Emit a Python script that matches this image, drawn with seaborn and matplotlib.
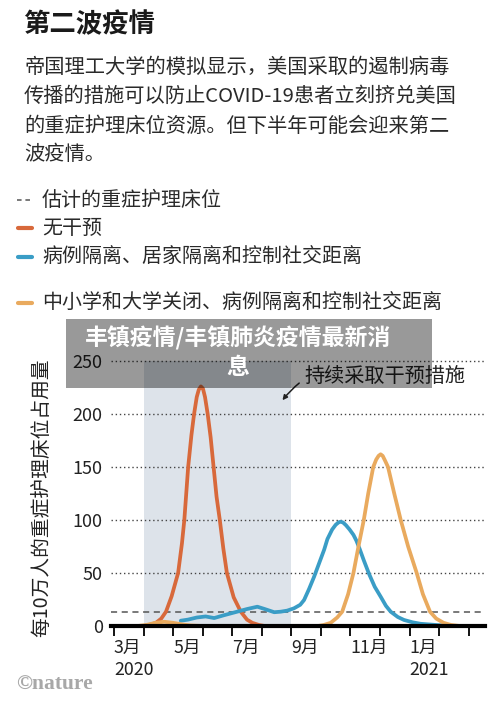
import matplotlib
matplotlib.use("Agg")
import matplotlib.pyplot as plt
import matplotlib.transforms as mtransforms
from matplotlib.lines import Line2D
from matplotlib.patches import Rectangle
import seaborn as sns
import pandas as pd

# ---------------- data (months since 1 March 2020) ----------------
orange_x = [1.0, 1.2, 1.42, 1.6, 1.76, 1.95, 2.17, 2.3, 2.38, 2.51, 2.62, 2.71, 2.8, 2.87, 2.94,
            3.01, 3.08, 3.17, 3.27, 3.37, 3.47, 3.58, 3.7, 3.82, 4.05, 4.29, 4.5, 4.68, 4.9, 5.1]
orange_y = [0, 1, 3, 7, 13.5, 28, 50, 78, 100, 150, 180, 200, 216, 223, 226,
            224, 216, 200, 178, 150, 122, 100, 73, 50, 27, 13.5, 6, 3, 1, 0]

blue_x = [2.26, 2.5, 2.8, 3.1, 3.39, 3.7, 4.1, 4.5, 4.85, 5.1, 5.42, 5.64, 5.86, 6.09, 6.3,
          6.43, 6.6, 6.77, 6.95, 7.11, 7.22, 7.38, 7.5, 7.6, 7.67, 7.75, 7.85, 7.97, 8.1,
          8.2, 8.3, 8.45, 8.63, 8.82, 9.02, 9.2, 9.36, 9.6, 9.81, 10.1, 10.37, 10.93, 11.3]
blue_y = [5, 6, 8, 9, 7.5, 10, 13, 16, 18.2, 16, 13, 13.5, 14.5, 16.7, 20,
          24.5, 35, 46.5, 60, 72, 82, 91, 95.5, 97.8, 98.4, 97.6, 95, 91, 86,
          80.5, 73.5, 62, 49, 37, 27.7, 19, 13.5, 8.5, 5.7, 3.5, 2.1, 0.9, 0.3]

tan_x = [0.8, 1.1, 1.4, 1.7, 2.0, 2.3, 2.6, 3.0, 6.9, 7.1, 7.33, 7.55, 7.72, 7.92, 8.1, 8.27,
         8.45, 8.6, 8.77, 8.87, 8.95, 9.02, 9.09, 9.17, 9.27, 9.48, 9.7, 9.95, 10.24, 10.45,
         10.69, 10.9, 11.15, 11.4, 11.7]
tan_y = [0, 1, 3, 4, 3, 1.5, 0.5, 0, 0, 1, 3, 8, 13.5, 30, 50, 75,
         100, 125, 150, 157, 160.5, 162, 160.5, 156, 150, 125, 100, 75, 50, 30,
         13.5, 7, 3, 1, 0]

icu_capacity = 13.5
intervention_start, intervention_end = 1, 6

x_ticks = list(range(13))
x_labels = ["3月\n2020", "", "5月", "", "7月", "", "9月", "", "11月", "", "1月\n2021", "", ""]
y_ticks = [0, 50, 100, 150, 200, 250]

series_names = ["无干预", "病例隔离、居家隔离和控制社交距离", "中小学和大学关闭、病例隔离和控制社交距离"]
colors = ["#d8693b", "#3a9dc6", "#e9aa5e"]

df = pd.concat([
    pd.DataFrame({"month": orange_x, "value": orange_y, "series": series_names[0]}),
    pd.DataFrame({"month": blue_x, "value": blue_y, "series": series_names[1]}),
    pd.DataFrame({"month": tan_x, "value": tan_y, "series": series_names[2]}),
], ignore_index=True)

# ---------------- style ----------------
sns.set_theme(style="white")
plt.rcParams["font.family"] = ["Noto Sans CJK SC", "DejaVu Sans"]

W, H = 500, 708
fig = plt.figure(figsize=(W / 100, H / 100), dpi=100)
fig.patch.set_facecolor("white")

def fy(p):
    return 1 - p / H

ax = fig.add_axes([111 / W, 82 / H, 374 / W, 270.3 / H])

ax.axvspan(intervention_start, intervention_end, ymin=0, ymax=250 / 255,
           color="#dde3ea", zorder=0.2, lw=0)
ax.axhline(icu_capacity, color="#555555", lw=1.1, ls=(0, (4, 3)), zorder=1.5)

sns.lineplot(data=df, x="month", y="value", hue="series", hue_order=series_names,
             palette=colors, estimator=None, sort=False, lw=2.7, legend=False,
             ax=ax, zorder=3)
for ln in ax.get_lines():
    ln.set_solid_joinstyle("round")
    ln.set_solid_capstyle("round")

ax.set_xlim(-0.1, 12.55)
ax.set_ylim(0, 255)
ax.set_yticks(y_ticks)
ax.set_yticklabels([str(v) for v in y_ticks])
ax.set_xticks(x_ticks)
ax.set_xticklabels(x_labels, ha="left", multialignment="left", linespacing=1.3)
offset = mtransforms.ScaledTranslation(-5 / 100, 0, fig.dpi_scale_trans)
for lab in ax.get_xticklabels():
    lab.set_transform(lab.get_transform() + offset)

ax.yaxis.grid(True, linestyle=(0, (1, 2)), color="#444444", lw=1.0)
ax.set_axisbelow(True)
for s in ["top", "right", "left"]:
    ax.spines[s].set_visible(False)
ax.spines["bottom"].set_linewidth(3)
ax.spines["bottom"].set_color("black")
ax.spines["bottom"].set_zorder(4)
ax.tick_params(axis="y", length=0, pad=6, labelsize=13, labelcolor="#222222")
ax.tick_params(axis="x", length=7, width=1.3, direction="out", color="black",
               pad=2, labelsize=12.8, labelcolor="#222222", bottom=True)
ax.set_xlabel("")
ax.set_ylabel("每10万人的重症护理床位占用量", fontsize=14.2, color="#222222")
ax.yaxis.set_label_coords(-0.158, 0.475)

ax.annotate("持续采取干预措施", xy=(5.7, 213), xytext=(6.45, 235),
            fontsize=14.5, color="#222222", va="center", ha="left",
            arrowprops=dict(arrowstyle="-|>", connectionstyle="arc3,rad=0.4",
                            color="#222222", lw=1.1, shrinkA=2, shrinkB=0,
                            mutation_scale=7))

# ---------------- header text ----------------
fig.text(23 / W, fy(25), "第二波疫情", fontsize=19, fontweight="bold",
         color="#1a1a1a", va="center", ha="left")
body = ["帝国理工大学的模拟显示，美国采取的遏制病毒",
        "传播的措施可以防止COVID-19患者立刻挤兑美国",
        "的重症护理床位资源。但下半年可能会迎来第二",
        "波疫情。"]
for txt, yp in zip(body, [67, 96.5, 126, 155]):
    fig.text(24 / W, fy(yp), txt, fontsize=14.6, color="#2a2a2a", va="center", ha="left")

# ---------------- legend ----------------
fig.add_artist(Line2D([17 / W, 33 / W], [fy(200), fy(200)], color="#555555", lw=1.1,
                      ls=(0, (3, 2.5)), transform=fig.transFigure))
fig.text(42 / W, fy(200), "估计的重症护理床位", fontsize=14.4, color="#2a2a2a", va="center")
for name, col, yp in zip(series_names, colors, [228, 257, 303]):
    fig.add_artist(Line2D([18 / W, 32 / W], [fy(yp), fy(yp)], color=col, lw=3,
                          solid_capstyle="round", transform=fig.transFigure))
    fig.text(42 / W, fy(yp), name, fontsize=14.4, color="#2a2a2a", va="center")

# ---------------- overlay banner ----------------
fig.add_artist(Rectangle((66 / W, fy(388)), (432 - 66) / W, (388 - 319) / H,
                         transform=fig.transFigure, facecolor="black", alpha=0.4,
                         lw=0, zorder=5))
fig.text(238 / W, fy(338), "丰镇疫情/丰镇肺炎疫情最新消", fontsize=16.5, fontweight="bold",
         color="white", ha="center", va="center", zorder=6)
fig.text(238 / W, fy(367), "息", fontsize=16.5, fontweight="bold",
         color="white", ha="center", va="center", zorder=6)

# ---------------- credit ----------------
fig.text(16 / W, fy(685), "©nature", fontsize=15.5, fontweight="bold",
         family=["Liberation Serif", "DejaVu Serif"], color="#a8a8a8",
         va="center", ha="left")

fig.savefig("out.png", dpi=100, facecolor="white")
